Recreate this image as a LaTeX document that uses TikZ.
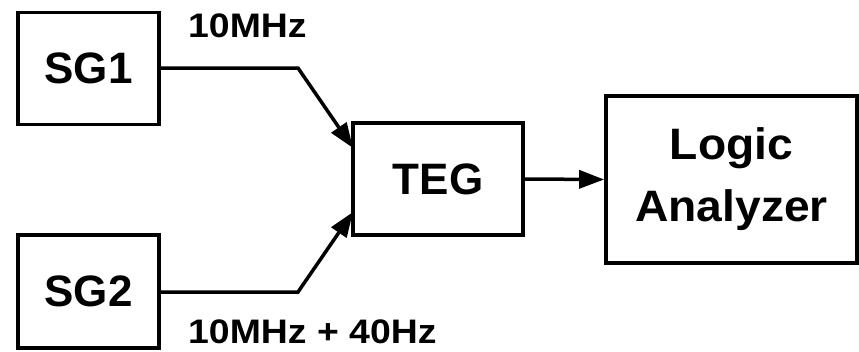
\documentclass[tikz,border=0pt]{standalone}
\usepackage{fontspec}
\setmainfont{Liberation Sans}
\usetikzlibrary{arrows.meta}
\begin{document}
\begin{tikzpicture}[x=1pt,y=-1pt,
  blk/.style={draw,line width=3.8pt,inner sep=0pt,font=\fontsize{44}{50}\selectfont\bfseries},
  conn/.style={line width=3.5pt,-{Triangle[length=25pt,width=18pt]}},
  lbl/.style={font=\fontsize{34}{40}\selectfont\bfseries,inner sep=0pt}]
\useasboundingbox (0,0) rectangle (859,351);
\node[blk,minimum width=141pt,minimum height=112pt] (SG1) at (88.5,68.5) {SG1};
\node[blk,minimum width=141pt,minimum height=113pt] (SG2) at (88.5,291.5) {SG2};
\node[blk,minimum width=170pt,minimum height=112pt] (TEG) at (438,179) {TEG};
\node[blk,minimum width=251pt,minimum height=167pt,align=center,font=\fontsize{44}{62}\selectfont\bfseries] (LA) at (731.5,179.5) {\scalebox{1.05}[1]{Logic}\\\scalebox{1.05}[1]{Analyzer}};
\coordinate (b1) at (298,68);
\coordinate (b2) at (298,292);
\coordinate (t1) at (353,148);
\coordinate (t2) at (353,212);
\draw[conn] (SG1.east |- b1) -- (b1) -- (t1);
\draw[conn] (SG2.east |- b2) -- (b2) -- (t2);
\draw[conn] (TEG.east) -- (LA.west);
\node[lbl,anchor=base west] (l1) at (188,37) {\scalebox{1.1}[1]{10MHz}};
\node[lbl,anchor=base west] (l2) at (188,343) {\scalebox{1.1}[1]{10MHz + 40Hz}};
\end{tikzpicture}
\end{document}
